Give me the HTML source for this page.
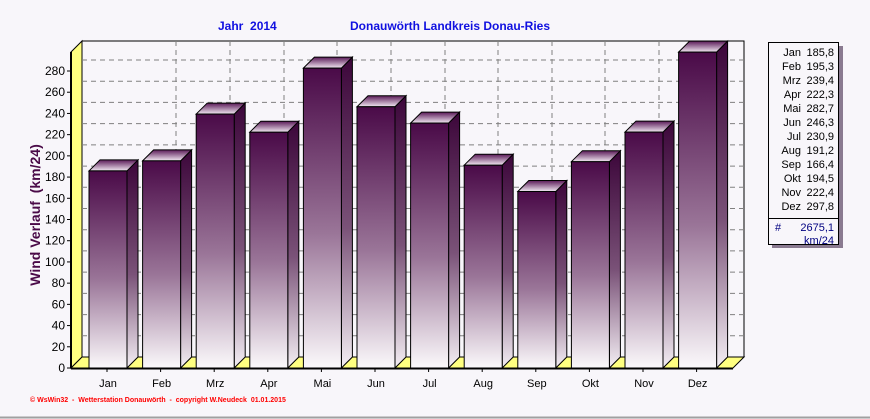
<!DOCTYPE html>
<html><head><meta charset="utf-8"><style>
html,body{margin:0;padding:0;background:#f8f6fa;}
svg{display:block;font-family:"Liberation Sans",Arial,sans-serif;}
</style></head><body>
<svg width="870" height="419" viewBox="0 0 870 419" xmlns="http://www.w3.org/2000/svg">
<defs>
<linearGradient id="gf" x1="0" y1="0" x2="0" y2="1">
<stop offset="0" stop-color="#4a0a48"/><stop offset="0.55" stop-color="#9a7598"/><stop offset="1" stop-color="#fbf9fb"/>
</linearGradient>
<linearGradient id="gs" x1="0" y1="0" x2="0" y2="1">
<stop offset="0" stop-color="#3c063a"/><stop offset="0.55" stop-color="#7a5278"/><stop offset="1" stop-color="#f4eff4"/>
</linearGradient>
<linearGradient id="gt" x1="0" y1="0" x2="0" y2="1">
<stop offset="0" stop-color="#5a1a58"/><stop offset="1" stop-color="#f2e8f2"/>
</linearGradient>
</defs>
<rect width="870" height="419" fill="#f8f6fa"/>
<line x1="0" y1="417.5" x2="870" y2="417.5" stroke="#a0a0a0" stroke-width="2"/>
<text x="218" y="30" font-size="12" font-weight="bold" fill="#1010e0">Jahr&#160; 2014</text>
<text x="350" y="30" font-size="12" font-weight="bold" fill="#1010e0">Donauwörth Landkreis Donau-Ries</text>
<rect x="82" y="41" width="662" height="316" fill="#f8f6fa" stroke="#000" stroke-width="1"/>
<polygon points="71,52 82,41 82,357 71,368" fill="#ffff80" stroke="#000" stroke-width="1"/>
<line x1="71" y1="52" x2="71" y2="368" stroke="#000" stroke-width="2"/>
<polygon points="71,368 82,357 744,357 733,368" fill="#ffff80" stroke="#000" stroke-width="1"/>
<g stroke="#808080" stroke-dasharray="5,4" stroke-width="1" fill="none">
<line x1="82" y1="335.8" x2="744" y2="335.8"/><line x1="82" y1="314.6" x2="744" y2="314.6"/>
<line x1="82" y1="293.4" x2="744" y2="293.4"/><line x1="82" y1="272.1" x2="744" y2="272.1"/>
<line x1="82" y1="250.9" x2="744" y2="250.9"/><line x1="82" y1="229.7" x2="744" y2="229.7"/>
<line x1="82" y1="208.5" x2="744" y2="208.5"/><line x1="82" y1="187.3" x2="744" y2="187.3"/>
<line x1="82" y1="166.1" x2="744" y2="166.1"/><line x1="82" y1="144.9" x2="744" y2="144.9"/>
<line x1="82" y1="123.6" x2="744" y2="123.6"/><line x1="82" y1="102.4" x2="744" y2="102.4"/>
<line x1="82" y1="81.2" x2="744" y2="81.2"/><line x1="82" y1="60" x2="744" y2="60"/>
<line x1="176" y1="41" x2="176" y2="357"/><line x1="230" y1="41" x2="230" y2="357"/>
<line x1="284" y1="41" x2="284" y2="357"/><line x1="337" y1="41" x2="337" y2="357"/>
<line x1="391" y1="41" x2="391" y2="357"/><line x1="445" y1="41" x2="445" y2="357"/>
<line x1="498" y1="41" x2="498" y2="357"/><line x1="552" y1="41" x2="552" y2="357"/>
<line x1="605" y1="41" x2="605" y2="357"/><line x1="659" y1="41" x2="659" y2="357"/>
<line x1="712" y1="41" x2="712" y2="357"/>
</g>
<g id="bars" stroke="#000" stroke-width="1"></g>
<g font-size="12" fill="#000" text-anchor="end" id="yl"></g>
<g stroke="#000" id="yt"></g>
<line x1="71" y1="368.5" x2="733" y2="368.5" stroke="#000" stroke-width="2"/>
<g font-size="11" fill="#000" text-anchor="middle" id="xl"></g>
<text transform="translate(40,215) rotate(-90)" font-size="14" font-weight="bold" fill="#4a0a48" text-anchor="middle">Wind Verlauf&#160; (km/24)</text>
<text x="30" y="402" font-size="7" font-weight="bold" fill="#ff0000">© WsWin32&#160; -&#160; Wetterstation Donauwörth&#160; -&#160; copyright W.Neudeck&#160; 01.01.2015</text>
<rect x="772" y="46" width="71" height="202" fill="#8a7a90"/>
<rect x="768.5" y="42.5" width="70" height="202" fill="#f8f6fa" stroke="#000"/>
<line x1="768" y1="218.5" x2="839" y2="218.5" stroke="#000"/>
<g font-size="11" fill="#000" text-anchor="end" id="lg"></g>
<text x="775" y="231" font-size="11" fill="#000080">#</text>
<text x="834" y="231" font-size="11" fill="#000080" text-anchor="end">2675,1</text>
<text x="834" y="244" font-size="11" fill="#000080" text-anchor="end">km/24</text>
</svg>
<script>
var ns="http://www.w3.org/2000/svg";
function el(p,t,a,tx){var e=document.createElementNS(ns,t);for(var k in a)e.setAttribute(k,a[k]);if(tx!==undefined)e.textContent=tx;p.appendChild(e);return e;}
var m=["Jan","Feb","Mrz","Apr","Mai","Jun","Jul","Aug","Sep","Okt","Nov","Dez"];
var v=[185.8,195.3,239.4,222.3,282.7,246.3,230.9,191.2,166.4,194.5,222.4,297.8];
var k=1.0607,b=document.getElementById("bars");
for(var i=0;i<12;i++){var x=89+i*53.6,w=38,t=368-v[i]*k;
el(b,"polygon",{points:(x+w)+","+t+" "+(x+w+11)+","+(t-11)+" "+(x+w+11)+","+357+" "+(x+w)+",368",fill:"url(#gs)"});
el(b,"polygon",{points:x+","+t+" "+(x+11)+","+(t-11)+" "+(x+w+11)+","+(t-11)+" "+(x+w)+","+t,fill:"url(#gt)"});
el(b,"rect",{x:x,y:t,width:w,height:368-t,fill:"url(#gf)"});
el(document.getElementById("xl"),"text",{x:x+w/2,y:387},m[i]);
var lg=document.getElementById("lg");
el(lg,"text",{x:801,y:56+i*14},m[i]);el(lg,"text",{x:834,y:56+i*14},v[i].toFixed(1).replace(".",","));}
var yl=document.getElementById("yl"),yt=document.getElementById("yt");
for(var j=0;j<=14;j++){var y=368-j*20*k;el(yl,"text",{x:65,y:y+4},String(j*20));el(yt,"line",{x1:67,y1:y,x2:71,y2:y});}
for(var j=0;j<12;j++){var tx=71+j*53.6+36;el(yt,"line",{x1:tx,y1:368,x2:tx,y2:372});}
</script>
</body></html>
